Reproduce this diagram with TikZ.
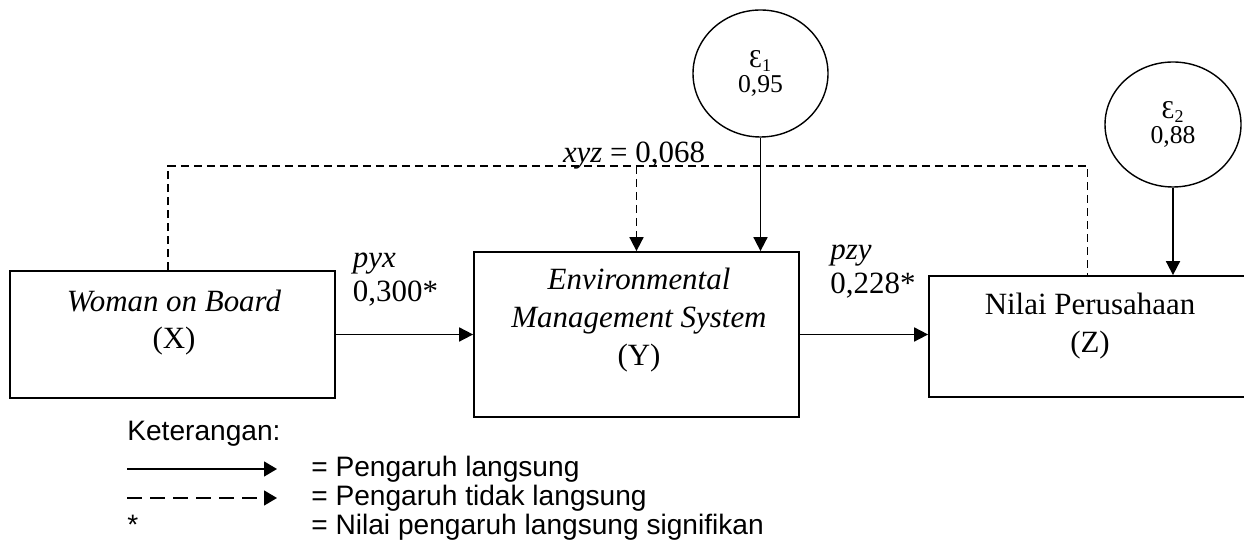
\documentclass[tikz,border=0pt]{standalone}
\usepackage{fontspec}
\setmainfont{Liberation Serif}
\newfontfamily\legendfont{Liberation Sans}
\usetikzlibrary{arrows.meta,shapes.geometric}
\tikzset{%
  varbox/.style={draw, line width=1pt, rectangle},
  vartext/.style={align=center, inner sep=0pt, font=\fontsize{17.6}{21.5}\selectfont},
  errnode/.style={draw, ellipse, line width=0.8pt, align=center, inner sep=0pt, font=\fontsize{14.6}{14.4}\selectfont},
  pathlbl/.style={align=left, inner sep=0pt, font=\fontsize{17.6}{19.3}\selectfont},
  direct/.style={line width=1pt, -{Triangle[length=0.28cm,width=0.28cm]}},
  indirect/.style={line width=1pt, dash pattern=on 0.16cm off 0.1cm},
  legline/.style={line width=0.8pt, -{Triangle[length=0.26cm,width=0.3cm]}},
  legtext/.style={anchor=base west, inner sep=0pt, font=\legendfont\fontsize{16}{19}\selectfont},
}

\begin{document}
\begin{tikzpicture}%
\clip (0,0) rectangle (24.88,10.92);%
% variabel
\node[varbox, minimum width=6.5cm, minimum height=2.54cm] (wob) at (3.45,4.23) {};%
\node[varbox, minimum width=6.5cm, minimum height=3.3cm] (ems) at (12.73,4.23) {};%
\node[varbox, minimum width=6.34cm, minimum height=2.42cm] (np) at (21.75,4.19) {};%
\node[vartext] (wobtxt) at (3.48,4.47) {\textit{Woman on Board}\\(X)};%
\node[vartext] (emstxt) at (12.78,4.52) {\textit{Environmental}\\\textit{Management System}\\(Y)};%
\node[vartext] (nptxt) at (21.80,4.40) {Nilai Perusahaan\\(Z)};%
% error
\node[errnode, minimum width=2.7cm, minimum height=2.54cm] (e1) at (15.21,9.45) {Ɛ\textsubscript{1}\\0,95};%
\node[errnode, minimum width=2.72cm, minimum height=2.5cm] (e2) at (23.46,8.43) {Ɛ\textsubscript{2}\\0,88};%
% pengaruh langsung
\draw[direct] (wob.east) -- (wob.east -| ems.west);%
\draw[direct] (ems.east |- wob.east) -- (wob.east -| np.west);%
\draw[direct] (e1) -- (e1 |- ems.north);%
\draw[direct] (e2) -- (e2 |- np.north);%
\node[pathlbl] (pyx) at (7.91,5.32) {\textit{pyx}\\0,300*};%
\node[pathlbl] (pzy) at (17.46,5.49) {\textit{pzy}\\0,228*};%
% pengaruh tidak langsung
\coordinate (dtop) at (0,7.6);%
\draw[indirect] ([xshift=-0.09cm]wob.north) -- ([xshift=-0.09cm]wob.north |- dtop) -- (np.north |- dtop) -- (np.north);%
\draw[indirect, -{Triangle[length=0.28cm,width=0.28cm]}] (ems.north |- dtop) -- (ems.north);%
\node[anchor=base, inner sep=0pt, font=\fontsize{17.6}{21}\selectfont] (xyz) at (12.68,7.66) {\textit{xyz} = 0,068};%
% keterangan
\node[legtext] (ket) at (2.54,2.10) {Keterangan:};%
\coordinate (la1) at (2.54,1.54);%
\coordinate (lb1) at (5.54,1.54);%
\coordinate (la2) at (2.54,0.96);%
\coordinate (lb2) at (5.54,0.96);%
\draw[legline] (la1) -- (lb1);%
\draw[legline, dash pattern=on 0.3cm off 0.16cm] (la2) -- (lb2);%
\node[legtext] (star) at (2.54,0.22) {*};%
\node[legtext] (ket1) at (6.22,1.38) {= Pengaruh langsung};%
\node[legtext] (ket2) at (6.22,0.80) {= Pengaruh tidak langsung};%
\node[legtext] (ket3) at (6.22,0.22) {= Nilai pengaruh langsung signifikan};%
\end{tikzpicture}
\end{document}
